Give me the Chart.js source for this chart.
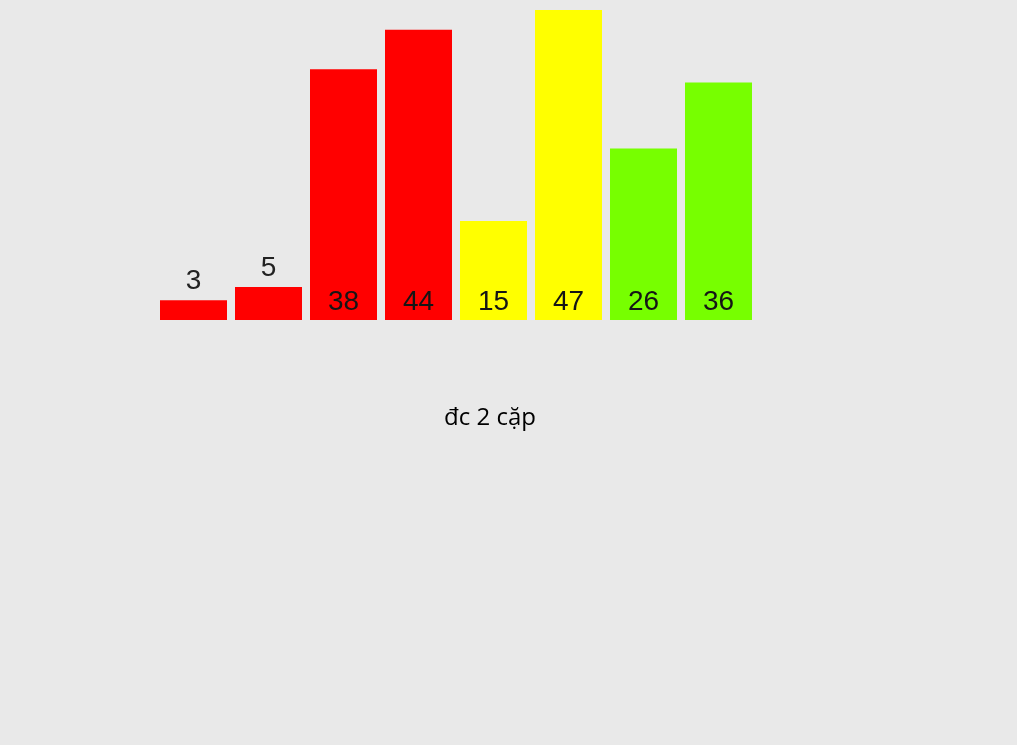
<!DOCTYPE html>
<html>
<head>
<meta charset="utf-8">
<script src="https://cdn.jsdelivr.net/npm/chart.js@4"></script>
<style>
  html, body { margin: 0; padding: 0; background: #e9e9e9; }
  #wrap { position: relative; width: 1017px; height: 745px; }
  #c { position: absolute; left: 0; top: 0; }
  #caption { position: absolute; left: 390px; width: 200px; top: 400px; text-align: center;
    font-family: "Open Sans", "Noto Sans", sans-serif; font-size: 24px; color: #000; line-height: 32px; }
</style>
</head>
<body>
<div id="wrap">
  <canvas id="c" width="1017" height="745"></canvas>
  <div id="caption">đc 2 cặp</div>
</div>
<script>
const categories = ["a1", "a2", "a3", "a4", "a5", "a6", "a7", "a8"];
const values = [3, 5, 38, 44, 15, 47, 26, 36];
const barColors = ["#ff0000", "#ff0000", "#ff0000", "#ff0000", "#ffff00", "#ffff00", "#77ff00", "#77ff00"];

const valueLabels = {
  id: "valueLabels",
  afterDatasetsDraw(chart) {
    const ctx = chart.ctx;
    const meta = chart.getDatasetMeta(0);
    const base = chart.scales.y.getPixelForValue(0);
    ctx.save();
    ctx.font = "28px 'Liberation Sans', Arial, sans-serif";
    ctx.textAlign = "center";
    ctx.textBaseline = "alphabetic";
    meta.data.forEach((bar, i) => {
      const h = base - bar.y;
      if (h < 50) {
        ctx.fillStyle = "#222";
        ctx.fillText(String(values[i]), bar.x, bar.y - 11);
      } else {
        ctx.fillStyle = "#151515";
        ctx.fillText(String(values[i]), bar.x, base - 10);
      }
    });
    ctx.restore();
  }
};

new Chart(document.getElementById("c"), {
  type: "bar",
  data: {
    labels: categories,
    datasets: [{
      data: values,
      backgroundColor: barColors,
      borderWidth: 0,
      categoryPercentage: 1,
      barPercentage: 67 / 75
    }]
  },
  options: {
    responsive: false,
    animation: false,
    events: [],
    layout: { padding: { left: 156, right: 261, top: 10, bottom: 425 } },
    plugins: { legend: { display: false }, tooltip: { enabled: false } },
    scales: {
      x: { display: false },
      y: { display: false, min: 0, max: 47 }
    }
  },
  plugins: [valueLabels]
});
</script>
</body>
</html>
